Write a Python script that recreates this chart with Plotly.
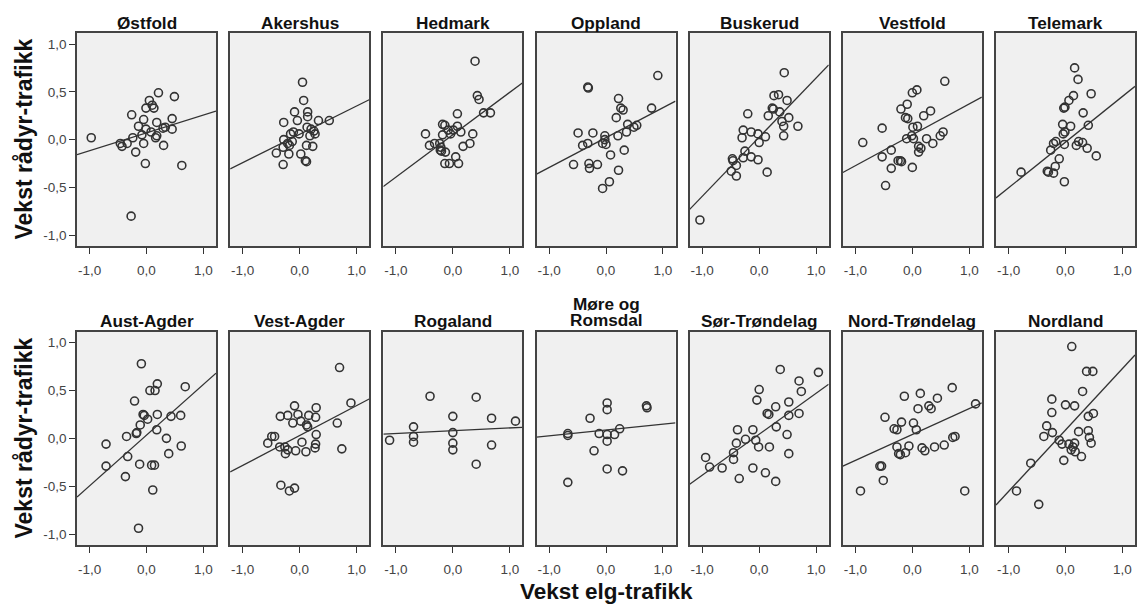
import plotly.graph_objects as go

regions = ["Østfold", "Akershus", "Hedmark", "Oppland", "Buskerud", "Vestfold", "Telemark",
           "Aust-Agder", "Vest-Agder", "Rogaland", "Møre og<br>Romsdal", "Sør-Trøndelag",
           "Nord-Trøndelag", "Nordland"]

ostfold_x = [-0.97, -0.46, -0.43, -0.34, -0.26, -0.24, -0.19, -0.14, -0.05, -0.08, -0.05, -0.01, -0.01, 0.05, 0.10,
             0.13, 0.21, 0.18, 0.18, 0.16, 0.29, 0.30, 0.33, 0.45, 0.45, 0.49, 0.62, -0.02, -0.27, 0.08]
ostfold_y = [0.02, -0.04, -0.07, -0.04, 0.26, 0.02, -0.13, 0.14, 0.21, 0.05, -0.04, 0.11, 0.33, 0.41, 0.36,
             0.33, 0.49, 0.18, 0.04, 0.02, 0.12, -0.06, 0.13, 0.22, 0.11, 0.45, -0.27, -0.25, -0.80, 0.08]

akershus_x = [0.05, 0.07, -0.09, 0.14, -0.28, -0.04, 0.14, 0.33, 0.52, -0.11, -0.16, -0.01, 0.13, 0.20, 0.25,
              0.27, 0.18, -0.28, -0.21, -0.13, -0.18, -0.29, -0.41, -0.19, 0.02, 0.12, 0.23, 0.10, 0.12, -0.29]
akershus_y = [0.60, 0.41, 0.29, 0.29, 0.18, 0.20, 0.24, 0.20, 0.20, 0.08, 0.06, 0.06, 0.13, 0.11, 0.09,
              0.06, 0.04, 0.00, -0.04, -0.02, -0.06, -0.08, -0.14, -0.15, -0.15, -0.06, -0.07, -0.22, -0.23, -0.26]

hedmark_x = [0.39, 0.43, 0.46, 0.54, 0.66, 0.08, -0.48, -0.18, -0.14, -0.18, -0.08, 0.01, 0.08, 0.14, -0.41,
             -0.32, -0.23, -0.21, -0.22, -0.13, 0.18, 0.30, 0.35, 0.05, -0.14, -0.06, 0.10, -0.04, -0.20]
hedmark_y = [0.82, 0.46, 0.42, 0.28, 0.28, 0.27, 0.06, 0.16, 0.15, 0.05, 0.10, 0.10, 0.14, 0.08, -0.06,
             -0.04, -0.04, -0.08, -0.11, -0.13, -0.07, -0.04, 0.06, -0.18, -0.25, -0.25, -0.25, 0.06, -0.12]

oppland_x = [0.91, -0.32, -0.31, 0.22, 0.26, 0.30, 0.80, 0.18, -0.49, -0.23, -0.41, -0.32, -0.02, -0.02, -0.06,
             0.00, 0.38, 0.36, 0.49, 0.54, 0.21, 0.32, 0.08, -0.57, -0.30, -0.29, -0.15, 0.22, 0.06, -0.06]
oppland_y = [0.67, 0.55, 0.54, 0.43, 0.33, 0.31, 0.33, 0.23, 0.07, 0.07, -0.06, -0.04, 0.04, 0.00, -0.04,
             -0.05, 0.16, 0.08, 0.13, 0.15, 0.04, -0.11, -0.16, -0.26, -0.25, -0.30, -0.26, -0.32, -0.44, -0.51]

buskerud_x = [-1.04, 0.44, 0.26, 0.34, 0.49, 0.23, 0.25, 0.36, 0.16, 0.52, -0.20, 0.40, 0.43, 0.68, 0.43, -0.28,
              -0.30, -0.14, -0.02, 0.11, 0.00, -0.25, -0.28, -0.14, -0.02, -0.47, -0.46, -0.40, -0.49, -0.40, 0.14]
buskerud_y = [-0.84, 0.70, 0.46, 0.47, 0.41, 0.33, 0.32, 0.29, 0.25, 0.23, 0.27, 0.19, 0.14, 0.14, 0.04, 0.10,
              0.02, 0.08, 0.06, 0.03, -0.03, -0.12, -0.19, -0.18, -0.21, -0.20, -0.22, -0.27, -0.33, -0.38, -0.34]

vestfold_x = [0.57, 0.08, 0.00, -0.09, -0.20, -0.12, -0.08, 0.32, 0.20, 0.01, 0.09, -0.53, -0.87, -0.10, -0.01, 0.02,
              0.25, 0.36, 0.49, 0.54, 0.11, 0.15, 0.11, -0.37, -0.53, -0.25, -0.21, -0.19, -0.37, 0.00, -0.47]
vestfold_y = [0.61, 0.52, 0.49, 0.37, 0.32, 0.23, 0.22, 0.30, 0.25, 0.13, 0.14, 0.12, -0.03, 0.01, 0.04, 0.01,
              0.01, -0.04, 0.04, 0.08, -0.07, -0.09, -0.13, -0.11, -0.18, -0.22, -0.22, -0.23, -0.30, -0.29, -0.48]

telemark_x = [0.16, 0.22, 0.45, 0.14, 0.06, -0.01, -0.03, 0.31, -0.05, 0.09, 0.40, -0.01, -0.04, -0.17, -0.21,
              -0.02, 0.23, 0.30, 0.19, 0.38, 0.54, -0.26, -0.11, -0.18, -0.32, -0.30, -0.21, -0.78, -0.02]
telemark_y = [0.75, 0.63, 0.48, 0.46, 0.41, 0.34, 0.33, 0.28, 0.16, 0.14, 0.15, 0.08, 0.06, -0.02, -0.04,
              -0.05, -0.02, -0.03, -0.06, -0.09, -0.17, -0.11, -0.20, -0.28, -0.33, -0.34, -0.35, -0.34, -0.44]

austagder_x = [-0.09, 0.19, 0.15, 0.06, 0.68, -0.21, -0.06, -0.04, 0.02, 0.19, 0.43, 0.60, -0.11, -0.17, -0.18,
               0.18, -0.35, 0.35, -0.71, 0.61, 0.39, -0.33, -0.71, -0.12, 0.09, 0.14, -0.37, 0.11, -0.14]
austagder_y = [0.78, 0.57, 0.50, 0.50, 0.54, 0.39, 0.25, 0.24, 0.20, 0.25, 0.23, 0.24, 0.14, 0.06, 0.05,
               0.09, 0.02, 0.00, -0.06, -0.08, -0.16, -0.19, -0.29, -0.27, -0.28, -0.28, -0.40, -0.54, -0.94]

vestagder_x = [0.70, 0.90, 0.66, 0.74, -0.09, 0.29, -0.34, -0.21, -0.03, 0.16, 0.28, -0.12, 0.02, 0.12, 0.14, -0.49,
               -0.44, 0.29, -0.56, -0.35, -0.26, -0.21, -0.25, 0.04, -0.07, 0.11, 0.28, 0.27, -0.33, -0.18, -0.09]
vestagder_y = [0.74, 0.37, 0.16, -0.11, 0.34, 0.32, 0.23, 0.24, 0.25, 0.24, 0.22, 0.16, 0.18, 0.14, 0.12, 0.02,
               0.02, 0.04, -0.05, -0.09, -0.09, -0.12, -0.16, -0.04, -0.13, -0.14, -0.06, -0.10, -0.49, -0.55, -0.52]

rogaland_x = [-1.11, -0.69, -0.69, -0.69, -0.40, 0.00, 0.00, 0.00, 0.00, 0.41, 0.68, 0.68, 1.10, 0.41]
rogaland_y = [-0.02, 0.12, 0.02, -0.04, 0.44, 0.23, 0.06, -0.05, -0.12, 0.43, 0.21, -0.07, 0.18, -0.27]

more_x = [-0.67, -0.67, -0.67, 0.02, 0.02, -0.28, 0.71, 0.72, -0.12, 0.02, 0.02, 0.15, 0.24, -0.21, 0.02, 0.29]
more_y = [0.05, 0.03, -0.46, 0.37, 0.30, 0.21, 0.34, 0.32, 0.05, 0.04, -0.03, 0.04, 0.10, -0.13, -0.32, -0.34]

sortr_x = [0.37, 1.04, 0.70, 0.74, 0.00, -0.04, 0.52, 0.29, 0.14, 0.17, 0.52, 0.70, 0.30, 0.49, -0.38, -0.11,
           -0.24, -0.06, -0.40, -0.01, 0.18, -0.45, -0.45, 0.52, -0.94, -0.87, -0.65, -0.11, 0.11, -0.35, 0.29]
sortr_y = [0.72, 0.69, 0.60, 0.49, 0.51, 0.40, 0.38, 0.33, 0.26, 0.25, 0.24, 0.26, 0.12, 0.04, 0.09, 0.09,
           -0.01, -0.02, -0.05, -0.09, -0.09, -0.15, -0.22, -0.16, -0.20, -0.30, -0.31, -0.31, -0.36, -0.42, -0.45]

nordtr_x = [0.70, 0.14, -0.14, 0.44, 1.11, 0.10, 0.29, 0.33, -0.48, -0.19, 0.02, -0.32, -0.27, 0.07, -0.27,
            -0.06, -0.12, -0.24, -0.21, 0.17, 0.22, 0.39, 0.56, 0.71, 0.75, -0.57, -0.54, -0.51, -0.91, 0.92]
nordtr_y = [0.53, 0.47, 0.44, 0.42, 0.36, 0.31, 0.34, 0.31, 0.22, 0.17, 0.16, 0.10, 0.09, 0.09, -0.09,
            -0.08, -0.15, -0.16, -0.17, -0.10, -0.13, -0.09, -0.07, 0.01, 0.02, -0.29, -0.29, -0.44, -0.55, -0.55]

nordland_x = [0.11, 0.37, 0.48, 0.30, -0.24, 0.00, 0.16, -0.24, 0.40, 0.49, -0.33, -0.23, -0.38, 0.23, 0.40,
              0.42, 0.45, -0.11, -0.06, 0.06, 0.16, 0.13, 0.10, 0.17, 0.28, -0.03, -0.61, -0.86, -0.47]
nordland_y = [0.96, 0.70, 0.70, 0.49, 0.41, 0.35, 0.34, 0.27, 0.23, 0.26, 0.13, 0.06, 0.02, 0.07, 0.08,
              0.01, -0.05, -0.02, -0.06, -0.06, -0.05, -0.09, -0.12, -0.14, -0.19, -0.23, -0.26, -0.55, -0.69]

fit_slope = [0.187, 0.296, 0.444, 0.3125, 0.619, 0.323, 0.478,
             0.531, 0.313, 0.029, 0.061, 0.428, 0.271, 0.643]
fit_intercept = [0.071, 0.056, 0.051, 0.021, 0.026, 0.051, -0.026,
                 0.034, 0.030, 0.080, 0.087, 0.043, 0.040, 0.087]

x_ticks = [-1.0, 0.0, 1.0]
x_ticklabels = ["-1,0", "0,0", "1,0"]
y_ticks = [-1.0, -0.5, 0.0, 0.5, 1.0]
y_ticklabels = ["-1,0", "-0,5", "0,0", "0,5", "1,0"]
x_range = [-1.22, 1.22]
y_range = [-1.115, 1.115]

series = [(ostfold_x, ostfold_y), (akershus_x, akershus_y), (hedmark_x, hedmark_y),
          (oppland_x, oppland_y), (buskerud_x, buskerud_y), (vestfold_x, vestfold_y),
          (telemark_x, telemark_y), (austagder_x, austagder_y), (vestagder_x, vestagder_y),
          (rogaland_x, rogaland_y), (more_x, more_y), (sortr_x, sortr_y),
          (nordtr_x, nordtr_y), (nordland_x, nordland_y)]

W, H = 1137, 606
L, R, T, B = 77, 2, 33, 61
PW, PH = W - L - R, H - T - B
panel_w = 139
pitch = (PW - panel_w) / 6
row_h = 213.3

FONT = "Liberation Sans, Arial, sans-serif"
INK = "#333333"

fig = go.Figure()
layout = {}
annotations = []
for i, name in enumerate(regions):
    r, c = divmod(i, 7)
    n = i + 1
    xs, ys = series[i]
    xd = [c * pitch / PW, (c * pitch + panel_w) / PW]
    yd = [1 - row_h / PH, 1] if r == 0 else [0, row_h / PH]
    fig.add_trace(go.Scatter(x=xs, y=ys, mode="markers", xaxis=f"x{n}", yaxis=f"y{n}",
                             marker=dict(symbol="circle-open", size=8, color=INK,
                                         line=dict(width=1.6, color=INK)),
                             showlegend=False, hoverinfo="skip"))
    lx = x_range
    ly = [fit_intercept[i] + fit_slope[i] * v for v in lx]
    fig.add_trace(go.Scatter(x=lx, y=ly, mode="lines", xaxis=f"x{n}", yaxis=f"y{n}",
                             line=dict(color=INK, width=1.3), showlegend=False, hoverinfo="skip"))
    layout[f"xaxis{n}"] = dict(domain=xd, range=x_range, anchor=f"y{n}", tickvals=x_ticks,
                               ticktext=x_ticklabels, ticks="outside", ticklen=6, tickwidth=1.3,
                               tickcolor="#333", showline=True, mirror=True, linecolor="#444",
                               linewidth=1.6, showgrid=False, zeroline=False, ticklabelstandoff=5,
                               tickfont=dict(family=FONT, size=13.5, color="#444"), fixedrange=True)
    layout[f"yaxis{n}"] = dict(domain=yd, range=y_range, anchor=f"x{n}", tickvals=y_ticks,
                               ticktext=y_ticklabels, ticks="outside" if c == 0 else "",
                               showticklabels=(c == 0), ticklen=6, tickwidth=1.3,
                               tickcolor="#333", showline=True, mirror=True, linecolor="#444",
                               linewidth=1.6, showgrid=False, zeroline=False,
                               tickfont=dict(family=FONT, size=13.5, color="#444"), fixedrange=True)
    cx = (xd[0] + xd[1]) / 2
    if "<br>" in name:
        parts = name.split("<br>")
        for k, p in enumerate(parts):
            annotations.append(dict(text=f"<b>{p}</b>", x=cx, y=(545 - (303.5 + 16 * k)) / PH,
                                    xref="paper", yref="paper", showarrow=False,
                                    xanchor="center", yanchor="middle",
                                    font=dict(family=FONT, size=17.2, color="#111")))
    else:
        yc = 22.5 if r == 0 else 320.5
        annotations.append(dict(text=f"<b>{name}</b>", x=cx, y=(545 - yc) / PH,
                                xref="paper", yref="paper", showarrow=False,
                                xanchor="center", yanchor="middle",
                                font=dict(family=FONT, size=17.2, color="#111")))

for yc in [139.5, 438.5]:
    annotations.append(dict(text="<b>Vekst rådyr-trafikk</b>", x=(23 - L) / PW, y=(545 - yc) / PH,
                            xref="paper", yref="paper", showarrow=False, textangle=-90,
                            xanchor="center", yanchor="middle",
                            font=dict(family=FONT, size=23, color="#111")))
annotations.append(dict(text="<b>Vekst elg-trafikk</b>", x=0.5, y=(545 - 591.5) / PH,
                        xref="paper", yref="paper", showarrow=False, xanchor="center",
                        yanchor="middle", font=dict(family=FONT, size=22.5, color="#111")))

fig.update_layout(width=W, height=H, margin=dict(l=L, r=R, t=T, b=B, autoexpand=False),
                  paper_bgcolor="white", plot_bgcolor="#f0f0f0", annotations=annotations,
                  font=dict(family=FONT), **layout)
fig.write_html("out.html")
